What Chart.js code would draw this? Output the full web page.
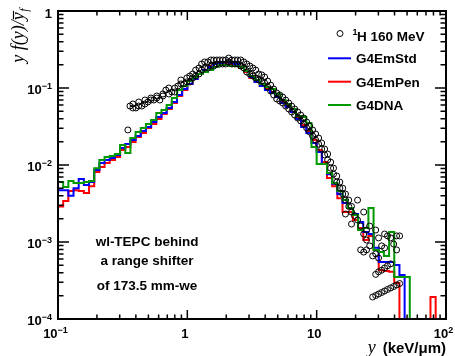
<!DOCTYPE html>
<html><head><meta charset="utf-8">
<script src="https://cdn.jsdelivr.net/npm/chart.js@4"></script>
<style>html,body{margin:0;padding:0;background:#fff}canvas{display:block}</style>
</head><body>
<canvas id="c" width="455" height="356"></canvas>
<script>
// ---- binning (25 log bins per decade from 0.1 to 100) ----
const binEdgeMin = 0.1, binsPerDecade = 25, nBins = 75;
const binEdges = Array.from({length: nBins + 1}, (_, k) => +(binEdgeMin * Math.pow(10, k / binsPerDecade)).toPrecision(6));

// ---- simulated spectra, y f(y)/yF per bin (0 = empty bin) ----
const g4EmStd = [
 0.0033, 0.0047, 0.0047, 0.0040, 0.0050, 0.0066, 0.0055, 0.0060, 0.0086, 0.0106,
 0.0116, 0.0123, 0.0135, 0.0166, 0.0187, 0.0211, 0.0238, 0.0276, 0.0312, 0.0361,
 0.0420, 0.0473, 0.0550, 0.0658, 0.0811, 0.0971, 0.113, 0.131, 0.152, 0.171,
 0.187, 0.205, 0.211, 0.218, 0.211, 0.205, 0.187, 0.166, 0.139, 0.120,
 0.106, 0.094, 0.0861, 0.0764, 0.0638, 0.0566, 0.0488, 0.0396, 0.0312, 0.0260,
 0.0193, 0.0148, 0.0103, 0.0076, 0.0057, 0.0042, 0.00321, 0.00277, 0.00231, 0.00182,
 0.00135, 0.00127, 0.00084, 0.00055, 0.00055, 0.00055, 0.000503, 0.000373, 0, 0,
 0, 0, 0, 0, 0];
const g4EmPen = [
 0.00277, 0.0029, 0.00341, 0.0046, 0.0047, 0.0046, 0.00433, 0.0053, 0.0081, 0.0094,
 0.0106, 0.0116, 0.0127, 0.0157, 0.0171, 0.0199, 0.0231, 0.0260, 0.0303, 0.0340,
 0.0396, 0.0459, 0.0534, 0.0638, 0.0787, 0.094, 0.113, 0.131, 0.152, 0.171,
 0.193, 0.211, 0.218, 0.211, 0.205, 0.199, 0.182, 0.161, 0.135, 0.120,
 0.106, 0.0971, 0.0887, 0.0764, 0.0658, 0.0583, 0.0488, 0.0407, 0.0331, 0.0276,
 0.0211, 0.0157, 0.0109, 0.0068, 0.0053, 0.0037, 0.00245, 0.00245, 0.00193, 0.00152,
 0.00106, 0.00120, 0.00079, 0.00043, 0.00042, 0.00041, 0.000294, 0, 0, 0,
 0, 0, 0, 0.000193, 0];
const g4DNA = [
 0.00584, 0.0060, 0.00518, 0.0062, 0.00584, 0.00584, 0.0060, 0.0062, 0.0091, 0.0116,
 0.0127, 0.0131, 0.0139, 0.0182, 0.0143, 0.0224, 0.0268, 0.0303, 0.0340, 0.0384,
 0.0473, 0.0518, 0.0601, 0.0741, 0.094, 0.106, 0.123, 0.139, 0.152, 0.161,
 0.171, 0.187, 0.199, 0.199, 0.193, 0.193, 0.187, 0.166, 0.143, 0.127,
 0.113, 0.103, 0.0971, 0.0836, 0.0698, 0.0620, 0.0534, 0.0433, 0.0420, 0.0351,
 0.0171, 0.0103, 0.0103, 0.00787, 0.00584, 0.00460, 0.0035, 0.00277, 0.00224, 0.00143,
 0.00152, 0.00277, 0.00079, 0.00074, 0.00066, 0.00135, 0.000351, 0.000351];

// ---- measured 1H 160 MeV spectrum [y (keV/um), y f(y)/yF] ----
const measuredLow = [
 [0.347,0.0285],[0.360,0.0583],[0.379,0.0550],[0.400,0.0550],[0.421,0.0583],[0.445,0.0583],
 [0.470,0.0620],[0.495,0.0658],[0.522,0.0698],[0.551,0.0698],[0.580,0.0741],[0.613,0.0698],
 [0.647,0.0836],[0.682,0.0940],[0.719,0.0836],[0.759,0.0887],[0.800,0.100],[0.845,0.106],
 [0.891,0.113],[0.940,0.113],[0.991,0.120],
 [0.379,0.0620],[0.421,0.0658],[0.470,0.0698],[0.522,0.0741],[0.580,0.0787],[0.647,0.0787],
 [0.719,0.100],[0.800,0.0887],[0.891,0.127],[0.991,0.135]];
const measuredMidX = [1.045,1.10,1.16,1.23,1.29,1.36,1.44,1.52,1.60,1.69,1.78,1.88,1.98,2.09,2.21,2.33,2.45,2.59,2.73,2.88,
 3.04,3.21,3.38,3.56,3.76,3.96,4.18,4.41,4.65,4.91,5.18,5.46,5.76,6.08,6.41,6.76,7.13,7.52,7.94,8.37,
 8.83,9.31,9.82,10.36,10.93,11.53,12.16,12.83,13.5,14.3,15.1,15.9,16.7,17.7,18.6];
const measuredMidUpper = [0.143,0.152,0.171,0.182,0.205,0.218,0.218,0.231,0.231,0.231,0.231,0.231,0.231,0.245,0.231,0.231,0.231,0.231,0.218,0.205,
 0.193,0.182,0.171,0.152,0.148,0.139,0.123,0.109,0.0971,0.0861,0.0811,0.0764,0.0698,0.0638,0.0583,0.0534,0.0488,0.0446,0.0407,0.0361,
 0.0321,0.0285,0.0253,0.0224,0.0193,0.0161,0.0139,0.0109,0.0091,0.0072,0.0060,0.0050,0.0042,0.0035,0.0029];
const measuredMidLower = [0.120,0.135,0.143,0.152,0.171,0.182,0.182,0.193,0.193,0.205,0.205,0.205,0.205,0.218,0.205,0.205,0.205,0.193,0.182,0.161,
 0.152,0.143,0.135,0.127,0.123,0.116,0.103,0.0914,0.0811,0.0720,0.0678,0.0638,0.0583,0.0534,0.0488,0.0446,0.0407,0.0373,0.0340,0.0303,
 0.0268,0.0238,0.0211,0.0187,0.0161,0.0135,0.0116,0.0091,0.0076,0.0060,0.0050,0.0042,0.0035,0.0029,0.00245];
const measuredTail = [
 [16.7,0.00231],[18.6,0.00171],[19.6,0.0022],[20.7,0.0035],[20.7,0.00193],[21.9,0.00161],[23.1,0.00245],[23.1,0.00127],
 [24.3,0.00143],[24.3,0.00106],[25.7,0.00161],[25.7,0.00089],[21.9,0.00079],[23.1,0.00074],[24.3,0.00079],[27.1,0.00066],
 [28.6,0.00070],[28.6,0.00143],[30.1,0.00113],[30.1,0.00062],[31.8,0.00089],[33.5,0.00127],[33.5,0.00084],[35.3,0.00120],
 [37.3,0.00113],[39.4,0.00094],[41.5,0.00120],[41.5,0.00079],[43.8,0.00120],
 [28.6,0.00038],[30.1,0.00041],[31.8,0.00043],[33.5,0.00046],[35.3,0.00049],[37.3,0.00052],
 [27.1,0.000193],[28.6,0.000202],[30.1,0.000211],[31.8,0.000221],[33.5,0.000231],[35.3,0.000242],
 [37.3,0.000253],[39.4,0.000264],[41.5,0.000277],[43.8,0.000289]];

// ---- axes / texts ----
const xMin = 0.1, xMax = 100, yMin = 1e-4, yMax = 1;
const xTickValues = [0.1, 1, 10, 100];
const xTickLabels = [['10','\u22121'],['1',''],['10',''],['10','2']];
const yTickValues = [1e-4, 1e-3, 1e-2, 1e-1, 1];
const yTickLabels = [['10','\u22124'],['10','\u22123'],['10','\u22122'],['10','\u22121'],['1','']];
const seriesNames = ['G4EmStd', 'G4EmPen', 'G4DNA'];
const seriesColors = ['#0000ff', '#ff0000', '#009900'];
const dataLegend = ['1', 'H 160 MeV'];
const noteLines = ['wl-TEPC behind', 'a range shifter', 'of 173.5 mm-we'];

const SANS = '"Liberation Sans", Arial, Helvetica, sans-serif';
const SERIF = '"Liberation Serif", "Times New Roman", Times, serif';

function stepPoints(vals, dropAtEnd) {
  const pts = vals.map((v, k) => ({x: binEdges[k], y: v > 0 ? v : yMin}));
  const last = vals[vals.length - 1];
  pts.push({x: binEdges[vals.length], y: last > 0 ? last : yMin});
  if (dropAtEnd) pts.push({x: binEdges[vals.length], y: yMin});
  return pts;
}
const measuredPoints = [];
measuredLow.forEach(p => measuredPoints.push({x: p[0], y: p[1]}));
measuredMidX.forEach((x, i) => { measuredPoints.push({x, y: measuredMidUpper[i]}); measuredPoints.push({x, y: measuredMidLower[i]}); });
measuredTail.forEach(p => measuredPoints.push({x: p[0], y: p[1]}));

function drawPow(ctx, parts, x, y, align, size) {
  ctx.font = 'bold ' + size + 'px ' + SANS;
  const wb = ctx.measureText(parts[0]).width;
  const es = Math.round(size * 0.68);
  ctx.font = 'bold ' + es + 'px ' + SANS;
  const we = parts[1] ? ctx.measureText(parts[1]).width : 0;
  const tot = wb + we;
  let sx = align === 'center' ? x - tot / 2 : (align === 'right' ? x - tot : x);
  ctx.textAlign = 'left'; ctx.textBaseline = 'alphabetic';
  ctx.font = 'bold ' + size + 'px ' + SANS;
  ctx.fillText(parts[0], sx, y);
  if (parts[1]) { ctx.font = 'bold ' + es + 'px ' + SANS; ctx.fillText(parts[1], sx + wb, y - 5); }
}

const rootStyle = {
  id: 'rootStyle',
  afterDatasetsDraw(chart) {
    const ctx = chart.ctx, a = chart.chartArea, xs = chart.scales.x, ys = chart.scales.y;
    ctx.save();
    ctx.strokeStyle = '#000'; ctx.fillStyle = '#000';
    // tick marks (inside, all four sides)
    ctx.lineWidth = 1.5; ctx.beginPath();
    for (let d = -1; d <= 2; d++) for (let k = 1; k <= 9; k++) {
      const v = k * Math.pow(10, d); if (v > xMax * 1.0001) break;
      const p = xs.getPixelForValue(v), L = k === 1 ? 9 : 4.5;
      ctx.moveTo(p, a.bottom); ctx.lineTo(p, a.bottom - L);
      ctx.moveTo(p, a.top); ctx.lineTo(p, a.top + L);
    }
    for (let d = -4; d <= 0; d++) for (let k = 1; k <= 9; k++) {
      const v = k * Math.pow(10, d); if (v > yMax * 1.0001) break;
      const p = ys.getPixelForValue(v), L = k === 1 ? 11 : 5.5;
      ctx.moveTo(a.left, p); ctx.lineTo(a.left + L, p);
      ctx.moveTo(a.right, p); ctx.lineTo(a.right - L, p);
    }
    ctx.stroke();
    ctx.lineWidth = 2;
    ctx.strokeRect(a.left, a.top, a.right - a.left, a.bottom - a.top);

    // tick labels
    xTickValues.forEach((v, i) => drawPow(ctx, xTickLabels[i], xs.getPixelForValue(v) - 2.5, a.bottom + 19, 'center', 13));
    yTickValues.forEach((v, i) => drawPow(ctx, yTickLabels[i], a.left - 6, ys.getPixelForValue(v) + (yTickLabels[i][1] ? 5.5 : 7), 'right', 13));

    // x title: y (keV/um)
    ctx.textBaseline = 'alphabetic'; ctx.textAlign = 'right';
    ctx.font = 'bold 15px ' + SANS;
    const unit = '(keV/\u03bcm)';
    const wu = ctx.measureText(unit).width;
    ctx.fillText(unit, a.right, 352.5);
    ctx.font = 'italic 18px ' + SERIF;
    ctx.fillText('y', a.right - wu - 7, 352.5);

    // y title: y f(y)/ybar_f (rotated)
    ctx.save();
    ctx.translate(23.5, 8); ctx.rotate(-Math.PI / 2);
    ctx.textAlign = 'left';
    ctx.font = 'italic 18px ' + SERIF;
    const t1 = 'y f(y)/', w1 = ctx.measureText(t1).width, w2 = ctx.measureText('y').width;
    ctx.font = 'italic 12px ' + SERIF;
    const w3 = ctx.measureText('f').width;
    const sx = -(w1 + w2 + w3 + 1);
    ctx.font = 'italic 18px ' + SERIF;
    ctx.fillText(t1, sx, 0);
    ctx.fillText('y', sx + w1, 0);
    ctx.lineWidth = 1.2; ctx.beginPath();
    ctx.moveTo(sx + w1 + 1, -10); ctx.lineTo(sx + w1 + w2 + 1.5, -10); ctx.stroke();
    ctx.font = 'italic 12px ' + SERIF;
    ctx.fillText('f', sx + w1 + w2 + 0.5, 4);
    ctx.restore();

    // legend
    ctx.lineWidth = 1; ctx.beginPath(); ctx.arc(340, 33.5, 3, 0, Math.PI * 2); ctx.stroke();
    ctx.textAlign = 'left';
    ctx.font = 'bold 9px ' + SANS; ctx.fillText(dataLegend[0], 352.5, 35);
    ctx.font = 'bold 13.5px ' + SANS; ctx.fillText(dataLegend[1], 357, 40.5);
    const ly = [58.3, 81.7, 105];
    seriesNames.forEach((n, i) => {
      ctx.strokeStyle = seriesColors[i]; ctx.lineWidth = 2;
      ctx.beginPath(); ctx.moveTo(328, ly[i]); ctx.lineTo(351, ly[i]); ctx.stroke();
      ctx.fillStyle = '#000'; ctx.font = 'bold 13.5px ' + SANS;
      ctx.fillText(n, 356, ly[i] + 5);
    });

    // annotation
    ctx.fillStyle = '#000'; ctx.textAlign = 'center'; ctx.font = 'bold 13.5px ' + SANS;
    const nb = [245.7, 265, 290];
    noteLines.forEach((t, i) => ctx.fillText(t, 147, nb[i]));
    ctx.restore();
  }
};

const histDefaults = {type: 'line', showLine: true, stepped: 'after', borderWidth: 2, pointRadius: 0, fill: false,
  borderJoinStyle: 'miter', borderCapStyle: 'butt', tension: 0};

new Chart(document.getElementById('c'), {
  type: 'scatter',
  data: {datasets: [
    {label: dataLegend.join(''), data: measuredPoints, order: 0, showLine: false, pointStyle: 'circle', pointRadius: 3,
     pointBorderWidth: 1, pointBorderColor: '#000', pointBackgroundColor: 'rgba(0,0,0,0)', borderColor: '#000', backgroundColor: 'rgba(0,0,0,0)'},
    Object.assign({label: seriesNames[2], data: stepPoints(g4DNA, true), borderColor: seriesColors[2], order: 1}, histDefaults),
    Object.assign({label: seriesNames[0], data: stepPoints(g4EmStd, false), borderColor: seriesColors[0], order: 2}, histDefaults),
    Object.assign({label: seriesNames[1], data: stepPoints(g4EmPen, false), borderColor: seriesColors[1], order: 3}, histDefaults)
  ]},
  options: {
    responsive: false, animation: false, devicePixelRatio: 1,
    layout: {padding: {left: 0, top: 11, right: 9, bottom: 0}},
    plugins: {legend: {display: false}, tooltip: {enabled: false}},
    scales: {
      x: {type: 'logarithmic', min: xMin, max: xMax, grid: {display: false}, border: {display: false},
          ticks: {display: false}, afterFit(s) { s.height = 37; }},
      y: {type: 'logarithmic', min: yMin, max: yMax, grid: {display: false}, border: {display: false},
          ticks: {display: false}, afterFit(s) { s.width = 58; }}
    }
  },
  plugins: [rootStyle]
});
</script>
</body></html>
